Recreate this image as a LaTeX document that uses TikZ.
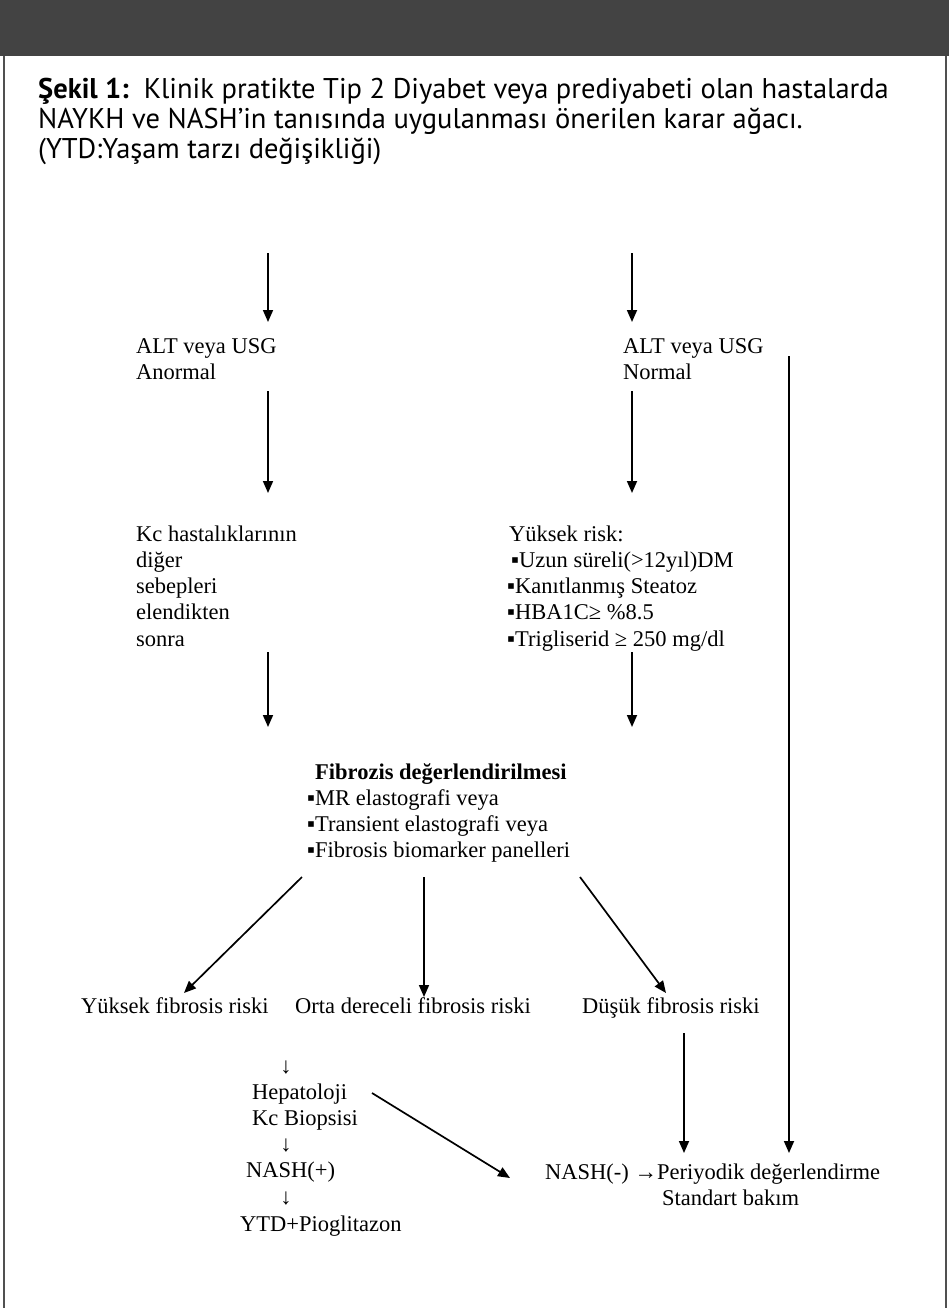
\documentclass[tikz,border=0pt]{standalone}
\usepackage{fontspec}
\setmainfont{Liberation Serif}
\newfontfamily\capfont{PT Sans}
\usetikzlibrary{arrows.meta}
\definecolor{headgray}{HTML}{434343}
\definecolor{framegray}{HTML}{505050}

\begin{document}
\begin{tikzpicture}[x=1pt,y=-1pt,
  lbl/.style={font=\fontsize{22.5}{26.3}\selectfont, inner sep=0pt, anchor=base west, align=left},
  caption/.style={font=\capfont\fontsize{28.5}{30}\selectfont, inner sep=0pt, anchor=base west, align=left},
  flow/.style={line width=1.7pt, -{Triangle[width=10pt,length=12pt]}},
  frame/.style={line width=1.6pt, draw=framegray}]
\useasboundingbox (0,0) rectangle (949,1308);

% header band and side rules
\fill[headgray] (0,0) rectangle (949,56);
\draw[frame] (4,56) -- (4,1308);
\draw[frame] (946,56) -- (946,1308);

% caption (base anchor sits on the last line)
\node[caption] (title) at (38,159) {\textbf{Şekil 1:}\, Klinik pratikte Tip 2 Diyabet veya prediyabeti olan hastalarda\\NAYKH ve NASH’in tanısında uygulanması önerilen karar ağacı.\\(YTD:Yaşam tarzı değişikliği)};

% left branch
\node[lbl] (altA) at (136,379.3) {ALT veya USG\\Anormal};
\node[lbl] (kc) at (136,646.2) {Kc hastalıklarının\\diğer\\sebepleri\\elendikten\\sonra};

% right branch
\node[lbl] (altN) at (623,379.3) {ALT veya USG\\Normal};
\node[lbl] (risk) at (507,646.2) {\hspace*{2pt}Yüksek risk:\\\hspace*{4pt}▪Uzun süreli(>12yıl)DM\\▪Kanıtlanmış Steatoz\\▪HBA1C≥ \%8.5\\▪Trigliserid ≥ 250 mg/dl};

% fibrosis assessment
\node[lbl] (fib) at (307,857.9) {\hspace*{8pt}\textbf{Fibrozis değerlendirilmesi}\\▪MR elastografi veya\\▪Transient elastografi veya\\▪Fibrosis biomarker panelleri};

% risk levels
\node[lbl] (high) at (81,1013) {Yüksek fibrosis riski};
\node[lbl] (mid) at (295,1013) {Orta dereceli fibrosis riski};
\node[lbl] (low) at (582,1013) {Düşük fibrosis riski};

% high-risk pathway
\node[lbl, anchor=base] (d1) at (286,1073) {↓};
\node[lbl] (hep) at (252,1125.3) {Hepatoloji\\Kc Biopsisi};
\node[lbl, anchor=base] (d2) at (286,1151) {↓};
\node[lbl] (nashp) at (246,1177) {NASH(+)};
\node[lbl, anchor=base] (d3) at (286,1204) {↓};
\node[lbl] (ytd) at (240,1231) {YTD+Pioglitazon};

% outcome for negative result
\node[lbl] (nashn) at (545,1205.3) {NASH(-) →Periyodik değerlendirme\\\hspace*{117pt}Standart bakım};

% arrow end points
\coordinate (inL) at (268,253);
\coordinate (inR) at (632,253);
\coordinate (altAin) at (268,322);
\coordinate (altNin) at (632,322);
\coordinate (altAout) at (268,391);
\coordinate (altNout) at (632,391);
\coordinate (kcin) at (268,493);
\coordinate (riskin) at (632,493);
\coordinate (kcout) at (268,652);
\coordinate (riskout) at (632,652);
\coordinate (fibinL) at (268,727);
\coordinate (fibinR) at (632,727);
\coordinate (fibL) at (302,877);
\coordinate (fibM) at (424,877);
\coordinate (fibR) at (580,877);
\coordinate (highin) at (184,993);
\coordinate (midin) at (424,997);
\coordinate (lowin) at (666,993);
\coordinate (altNside) at (789,356);
\coordinate (nashnR) at (789,1153);
\coordinate (lowout) at (684,1033);
\coordinate (nashnL) at (684,1153);
\coordinate (hepout) at (372,1093);
\coordinate (nashnin) at (510,1178);

% connectors
\draw[flow] (inL) -- (altAin);
\draw[flow] (inR) -- (altNin);
\draw[flow] (altAout) -- (kcin);
\draw[flow] (altNout) -- (riskin);
\draw[flow] (kcout) -- (fibinL);
\draw[flow] (riskout) -- (fibinR);
\draw[flow] (fibL) -- (highin);
\draw[flow] (fibM) -- (midin);
\draw[flow] (fibR) -- (lowin);
\draw[flow] (altNside) -- (nashnR);
\draw[flow] (lowout) -- (nashnL);
\draw[flow] (hepout) -- (nashnin);
\end{tikzpicture}
\end{document}
